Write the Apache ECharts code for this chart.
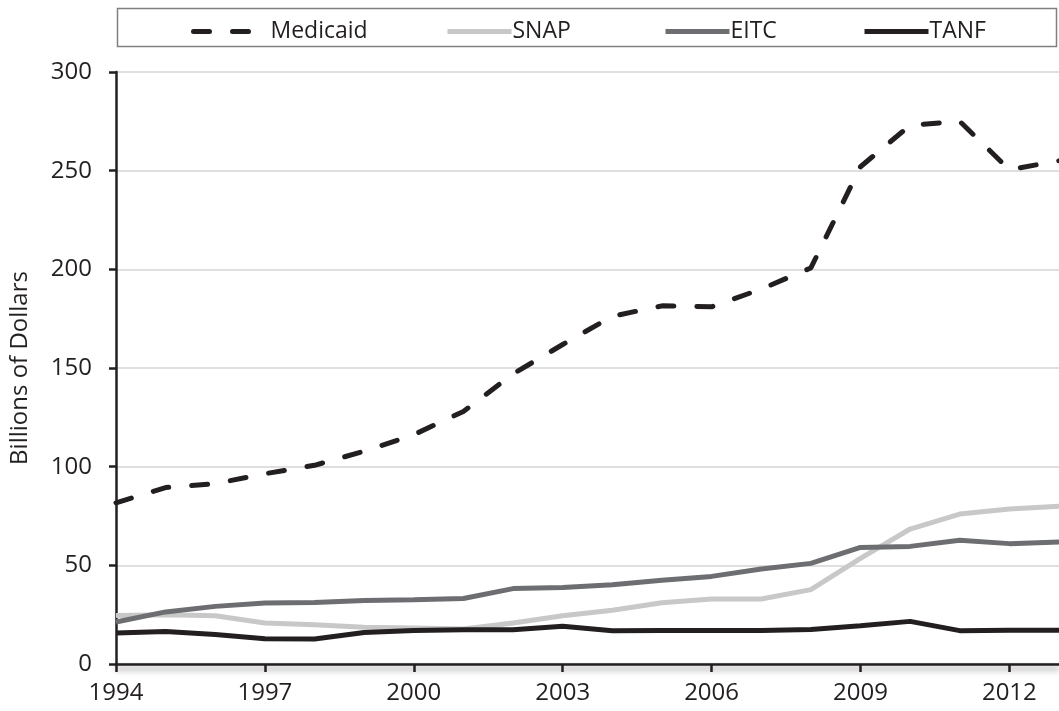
<!DOCTYPE html>
<html>
<head>
<meta charset="utf-8">
<script src="https://cdn.jsdelivr.net/npm/echarts@6/dist/echarts.min.js"></script>
<style>
  html, body { margin: 0; padding: 0; background: #ffffff; }
  #chart { width: 1059px; height: 711px; }
</style>
</head>
<body>
<div id="chart"></div>
<script>
const years = ['1994','1995','1996','1997','1998','1999','2000','2001','2002','2003','2004','2005','2006','2007','2008','2009','2010','2011','2012','2013'];
const medicaid = [81.7, 89.4, 91.4, 96.4, 100.7, 107.8, 116.2, 128, 147, 161.9, 176.2, 181.5, 181, 190, 200.7, 252, 273, 275, 250.5, 255];
const snap = [24.6, 25, 24.5, 20.8, 19.9, 18.6, 18.2, 17.7, 20.8, 24.5, 27.2, 31, 32.9, 32.9, 37.7, 53.5, 68.4, 76, 78.6, 80];
const eitc = [21.3, 26.4, 29.2, 30.9, 31.2, 32.2, 32.6, 33.2, 38.2, 38.8, 40.2, 42.4, 44.4, 48.1, 51, 59.1, 59.6, 62.7, 61, 61.8];
const tanf = [15.7, 16.5, 14.9, 12.8, 12.7, 16, 17, 17.4, 17.4, 19.1, 16.9, 17, 17, 17, 17.5, 19.4, 21.6, 16.9, 17.1, 17.1];
const yTicks = [0, 50, 100, 150, 200, 250, 300];

const FONT = '"Open Sans", "Noto Sans", sans-serif';
const TXT = '#231f20';
const chart = echarts.init(document.getElementById('chart'), null, { renderer: 'canvas' });

function legendAt(name, left, width, dashed) {
  return {
    data: [name], left: left, top: 15, itemWidth: width, itemHeight: 24, z: 10,
    itemStyle: { opacity: 0, borderWidth: 0 },
    lineStyle: { width: 5, cap: dashed ? 'round' : 'butt' },
    textStyle: { fontFamily: FONT, fontSize: 23, color: TXT, padding: [0, 0, 0, -4] }
  };
}

chart.setOption({
  animation: false,
  backgroundColor: '#ffffff',
  graphic: [{
    type: 'rect', z: 1,
    shape: { x: 117.5, y: 8.5, width: 939, height: 38 },
    style: { fill: '#ffffff', stroke: '#808080', lineWidth: 1.5 }
  }],
  legend: [
    legendAt('Medicaid', 186, 76, true),
    legendAt('SNAP', 440, 64),
    legendAt('EITC', 658, 64),
    legendAt('TANF', 857, 64)
  ],
  grid: { left: 114, right: -8, top: 72, bottom: 47, containLabel: false },
  xAxis: {
    type: 'category', data: years, boundaryGap: false,
    axisLine: { lineStyle: { color: TXT, width: 2.5, shadowColor: 'rgba(0,0,0,0.45)', shadowBlur: 6, shadowOffsetY: 4 } },
    axisTick: { show: true, interval: 2, length: 8, lineStyle: { color: TXT, width: 2.5 } },
    axisLabel: { interval: 2, margin: 17, fontFamily: FONT, fontSize: 24, color: TXT },
    splitLine: { show: false }
  },
  yAxis: {
    type: 'value', min: yTicks[0], max: yTicks[yTicks.length - 1], interval: 50,
    name: 'Billions of Dollars', nameLocation: 'middle', nameRotate: 90, nameGap: 84,
    nameTextStyle: { fontFamily: FONT, fontSize: 24, color: TXT },
    axisLine: { show: true, lineStyle: { color: TXT, width: 2.5 } },
    axisTick: { show: true, length: 7, lineStyle: { color: TXT, width: 2.5 } },
    axisLabel: { margin: 24, fontFamily: FONT, fontSize: 24, color: TXT },
    splitLine: { show: true, lineStyle: { color: '#d4d4d4', width: 1.5 } }
  },
  series: [
    { name: 'Medicaid', type: 'line', data: medicaid, symbol: 'none', smooth: false,
      lineStyle: { color: '#231f20', width: 5, type: [16, 23], cap: 'round' }, itemStyle: { color: '#231f20' } },
    { name: 'SNAP', type: 'line', data: snap, symbol: 'none',
      lineStyle: { color: '#c8c8c8', width: 5 }, itemStyle: { color: '#c8c8c8' } },
    { name: 'EITC', type: 'line', data: eitc, symbol: 'none',
      lineStyle: { color: '#6d6e71', width: 5 }, itemStyle: { color: '#6d6e71' } },
    { name: 'TANF', type: 'line', data: tanf, symbol: 'none',
      lineStyle: { color: '#231f20', width: 5 }, itemStyle: { color: '#231f20' } }
  ]
});
</script>
</body>
</html>
